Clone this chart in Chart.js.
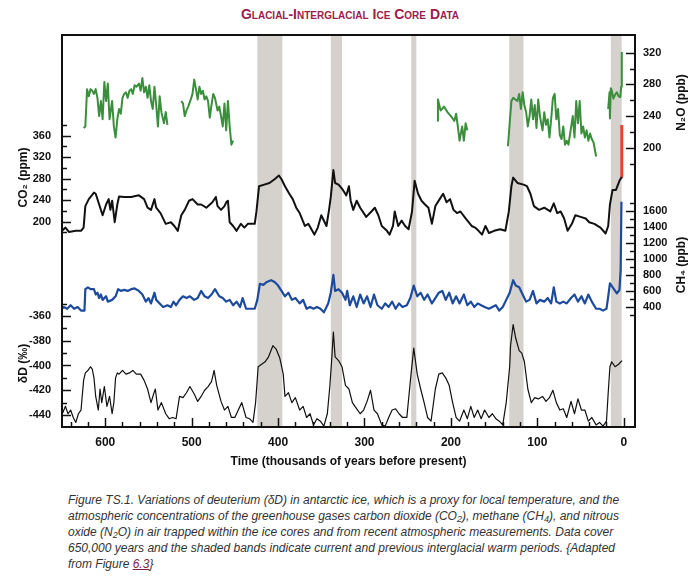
<!DOCTYPE html>
<html>
<head>
<meta charset="utf-8">
<script src="https://cdn.jsdelivr.net/npm/chart.js@4.4.1/dist/chart.umd.min.js"></script>
<style>
  html, body { margin: 0; padding: 0; background: #fff; }
  #wrap { position: relative; width: 700px; height: 581px; overflow: hidden; }
  #title { position: absolute; left: 0; top: 5px; width: 700px; text-align: center;
           font: bold 14px/18px "Liberation Sans", Arial, sans-serif; font-variant: small-caps; color: #9b1d4c; }
  #chart { position: absolute; left: 0; top: 0; }
  #caption { position: absolute; left: 68px; top: 492px; white-space: nowrap;
             font: italic 12px/16px "Liberation Sans", Arial, sans-serif; color: #333; }
  #caption sub { font-size: 9px; line-height: 0; vertical-align: -2px; }
  #caption a { color: #7a1f45; text-decoration: underline; }
</style>
</head>
<body>
<div id="wrap">
  <div id="title">Glacial-Interglacial Ice Core Data</div>
  <canvas id="chart" width="700" height="480"></canvas>
  <div id="caption">Figure TS.1. Variations of deuterium (δD) in antarctic ice, which is a proxy for local temperature, and the<br>atmospheric concentrations of the greenhouse gases carbon dioxide (CO<sub>2</sub>), methane (CH<sub>4</sub>), and nitrous<br>oxide (N<sub>2</sub>O) in air trapped within the ice cores and from recent atmospheric measurements. Data cover<br>650,000 years and the shaded bands indicate current and previous interglacial warm periods. {Adapted<br>from Figure <a>6.3</a>}</div>
</div>
<script>
(function () {
    var FONT = '"Liberation Sans", Arial, Helvetica, sans-serif';

    // time axis: thousands of years before present
    var xTicks = [600, 500, 400, 300, 200, 100, 0];
    var xMinor = [640, 620, 580, 560, 540, 520, 480, 460, 440, 420, 380, 360, 340, 320,
                  280, 260, 240, 220, 180, 160, 140, 120, 80, 60, 40, 20];

    var co2Ticks = [200, 240, 280, 320, 360];
    var co2Minor = [180, 220, 260, 300, 340, 380];
    var dDTicks = [-440, -420, -400, -380, -360];
    var dDMinor = [-430, -410, -390, -370, -350];
    var n2oTicks = [200, 240, 280, 320];
    var n2oMinor = [180, 220, 260, 300];
    var ch4Ticks = [400, 600, 800, 1000, 1200, 1400, 1600];
    var ch4Minor = [300, 500, 700, 900, 1100, 1300, 1500, 1700];

    // interglacial bands (start, end in kyr BP)
    var bandStart = [424, 339, 246, 132.5, 15];
    var bandEnd = [395, 326, 240, 116, 2.4];

    var co2Years = [652, 646, 642, 634, 628, 625, 623, 619, 613, 611,
        607, 603, 599, 596, 594, 592, 589, 586, 584, 578,
        570, 561, 555, 551, 547, 543, 541, 536, 530, 524,
        520, 516, 512, 508, 503, 499, 493, 489, 483, 476,
        472, 470, 466, 462, 460, 458, 456, 452, 448, 443,
        439, 435, 427, 425, 422, 416, 410, 404, 399, 396,
        392, 387, 383, 379, 375, 369, 365, 358, 354, 350,
        344, 341, 339, 336, 334, 330, 325, 321, 318, 316,
        313, 309, 305, 298, 292, 288, 284, 280, 274, 271,
        267, 265, 261, 257, 253, 249, 245, 242, 238, 234,
        230, 226, 222, 218, 213, 209, 205, 201, 197, 193,
        189, 183, 176, 172, 168, 164, 160, 156, 150, 143,
        137, 133, 130, 128, 123, 116, 112, 108, 104, 98,
        92, 85, 81, 77, 73, 69, 65, 60, 56, 50,
        44, 40, 34, 27, 21, 18, 16, 13, 9, 5, 2.4];
    var co2Values = [180, 189, 181, 183, 183, 189, 229, 242, 254, 252,
        232, 212, 232, 242, 222, 239, 199, 232, 247, 246,
        246, 249, 242, 226, 222, 242, 226, 216, 196, 199,
        192, 183, 212, 222, 239, 242, 232, 232, 226, 236,
        246, 229, 222, 229, 236, 239, 199, 192, 183, 196,
        189, 196, 196, 219, 266, 269, 272, 279, 286, 279,
        266, 252, 242, 226, 216, 192, 196, 176, 189, 212,
        192, 222, 246, 296, 272, 269, 259, 249, 266, 239,
        222, 239, 226, 209, 219, 226, 212, 192, 183, 176,
        192, 219, 192, 202, 192, 186, 219, 276, 252, 239,
        232, 226, 196, 229, 242, 252, 236, 242, 222, 216,
        219, 206, 192, 189, 183, 176, 192, 179, 183, 186,
        183, 219, 266, 282, 272, 269, 266, 252, 229, 222,
        226, 219, 234, 216, 219, 206, 183, 196, 212, 209,
        206, 199, 196, 189, 178, 192, 232, 259, 259, 276, 283];

    // instrumental CO2 (red)
    var co2ModernYears = [2.4, 2.3];
    var co2ModernValues = [283, 380];

    var ch4Years = [652, 648, 644, 640, 636, 632, 628, 624, 623, 620,
        617, 613, 611, 609, 607, 605, 603, 599, 597, 592,
        588, 585, 582, 578, 574, 570, 566, 561, 557, 553,
        550, 547, 543, 541, 537, 533, 528, 524, 521, 518,
        514, 510, 506, 502, 497, 493, 489, 485, 481, 477,
        473, 468, 464, 460, 456, 452, 448, 444, 441, 437,
        433, 427, 424, 421, 417, 413, 408, 404, 400, 396,
        392, 388, 384, 380, 375, 371, 367, 363, 359, 355,
        351, 347, 342, 339, 336, 334, 330, 326, 322, 320,
        317, 313, 309, 305, 301, 297, 293, 289, 285, 280,
        276, 272, 268, 264, 260, 256, 251, 247, 243, 239,
        235, 231, 227, 222, 218, 214, 210, 206, 202, 198,
        194, 190, 185, 181, 177, 173, 169, 165, 161, 156,
        152, 148, 144, 140, 136, 132, 128, 125, 121, 117,
        113, 109, 105, 101, 97, 92, 88, 84, 81, 78,
        74, 70, 66, 61, 57, 53, 49, 45, 41, 37,
        32, 28, 24, 20, 18, 16, 12, 8, 5, 3.6, 2.7];
    var ch4Values = [355, 400, 378, 422, 378, 400, 355, 355, 623, 646,
        623, 623, 556, 579, 512, 556, 489, 534, 467, 489,
        534, 623, 601, 614, 601, 623, 632, 601, 556, 467,
        512, 445, 579, 489, 445, 400, 422, 400, 467, 422,
        489, 534, 512, 534, 489, 512, 601, 534, 512, 556,
        623, 534, 512, 467, 489, 422, 467, 400, 512, 378,
        378, 378, 489, 690, 677, 713, 735, 713, 668, 601,
        534, 579, 489, 512, 445, 489, 378, 400, 378, 400,
        378, 333, 445, 579, 802, 601, 623, 579, 489, 601,
        422, 534, 400, 556, 445, 534, 400, 556, 422, 378,
        445, 400, 467, 378, 445, 400, 422, 512, 668, 534,
        579, 489, 556, 445, 512, 579, 601, 489, 579, 445,
        534, 445, 556, 422, 467, 400, 445, 422, 400, 378,
        400, 422, 355, 400, 489, 579, 735, 668, 646, 556,
        467, 489, 601, 445, 489, 467, 512, 445, 646, 467,
        445, 467, 445, 512, 556, 467, 534, 445, 556, 467,
        378, 378, 355, 378, 529, 696, 634, 571, 612, 862, 1716];

    // N2O, null marks gaps in the record
    var n2oYears = [625, 623, 621, 619, 617, 615, 613, 611, 609, 607,
        605, 603, 601, 599, 597, 595, 592, 590, 588, 586,
        584, 582, 580, 578, 576, 574, 572, 570, 568, 566,
        564, 561, 559, 557, 555, 553, 551, 549, 547, 545,
        543, 541, 539, 537, 535, 532, 530, 528,
        520,
        512, 510, 508, 506, 504, 501, 499, 497, 495, 493,
        491, 489, 487, 485, 483, 481, 479, 477, 475, 473,
        470, 468, 466, 464, 462, 460, 458, 456, 454, 452,
        300,
        216, 215, 212, 208, 204, 200, 196, 194, 192, 190,
        187, 185, 183, 181,
        160,
        134, 132, 130, 128, 123, 121, 119, 117, 115, 113,
        111, 109, 107, 105, 103, 101, 99, 97, 94, 92,
        90, 88, 86, 84, 82, 80, 78, 76, 74, 72,
        70, 68, 66, 64, 59, 57, 55, 53, 51, 49,
        47, 45, 43, 41, 39, 37, 35, 32,
        25,
        18, 16.5, 16, 15, 14, 12, 10, 8, 6, 4, 3, 2.4, 2.2];
    var n2oValues = [225, 227, 274, 265, 274, 272, 268, 274, 263, 240,
        259, 236, 283, 259, 281, 236, 259, 227, 213, 236,
        249, 243, 263, 268, 270, 263, 272, 274, 268, 279,
        277, 281, 272, 288, 270, 277, 263, 279, 259, 249,
        277, 254, 227, 265, 245, 231, 245, 229,
        null,
        259, 256, 240, 247, 252, 261, 268, 286, 274, 261,
        277, 268, 272, 261, 265, 259, 238, 254, 268, 263,
        247, 252, 240, 227, 256, 222, 259, 227, 204, 209,
        null,
        234, 261, 247, 252, 245, 240, 234, 243, 227, 209,
        227, 209, 231, 222,
        null,
        202, 231, 259, 263, 259, 268, 249, 270, 254, 245,
        227, 240, 261, 236, 254, 225, 261, 240, 222, 245,
        229, 236, 213, 236, 263, 268, 236, 249, 216, 211,
        227, 204, 209, 204, 240, 213, 259, 231, 259, 218,
        227, 213, 222, 209, 218, 211, 207, 189,
        null,
        249, 270, 237, 275, 273, 262, 267, 270, 265, 264, 277, 300, 321];

    var dDYears = [652, 649, 646, 643, 640, 637, 634, 631, 628, 625,
        623, 620, 617, 615, 613, 611, 608, 606, 604, 601,
        598, 595, 592, 590, 588, 586, 584, 580, 576, 572,
        568, 564, 559, 555, 551, 547, 544, 542, 539, 535,
        530, 526, 522, 518, 514, 510, 506, 502, 497, 493,
        489, 485, 481, 477, 474, 471, 466, 462, 458, 454,
        450, 446, 442, 437, 433, 429, 426, 423, 419, 415,
        411, 406, 402, 398, 394, 392, 388, 384, 380, 375,
        371, 367, 363, 359, 355, 351, 347, 343, 340, 338,
        336, 334, 330, 326, 322, 318, 314, 309, 305, 301,
        297, 293, 289, 285, 280, 276, 272, 268, 264, 260,
        256, 251, 247, 243, 239, 235, 231, 227, 223, 218,
        214, 210, 206, 202, 198, 194, 190, 185, 181, 177,
        173, 169, 165, 161, 156, 152, 148, 144, 140, 136,
        132, 131, 128, 125, 121, 118, 115, 111, 107, 103,
        99, 94, 90, 86, 82, 78, 74, 70, 66, 61,
        57, 53, 49, 45, 41, 37, 32, 28, 24, 20,
        18, 16, 14, 10, 6, 2];
    var dDValues = [-436, -438, -433, -439, -436, -442, -446, -439, -436, -412,
        -406, -404, -401, -403, -410, -425, -436, -419, -430, -417,
        -433, -425, -439, -430, -410, -406, -407, -404, -407, -406,
        -404, -407, -407, -412, -419, -430, -423, -419, -436, -430,
        -439, -443, -442, -443, -425, -426, -422, -417, -423, -429,
        -425, -420, -417, -413, -404, -416, -429, -436, -433, -442,
        -442, -436, -430, -442, -443, -446, -430, -401, -399, -397,
        -393, -384, -387, -394, -407, -425, -422, -430, -426, -436,
        -433, -442, -439, -448, -443, -445, -449, -439, -416, -396,
        -373, -393, -396, -401, -416, -419, -430, -435, -439, -436,
        -429, -420, -436, -439, -448, -449, -442, -436, -435, -439,
        -442, -442, -413, -386, -407, -419, -430, -442, -445, -419,
        -407, -406, -410, -416, -430, -442, -445, -436, -443, -433,
        -442, -436, -443, -436, -442, -439, -443, -445, -448, -430,
        -401, -384, -367, -378, -388, -390, -397, -419, -430, -426,
        -427, -425, -429, -426, -420, -430, -436, -435, -442, -429,
        -439, -427, -436, -436, -445, -442, -448, -446, -449, -445,
        -422, -401, -397, -401, -399, -396];

    function pts(xs, ys) {
        return xs.map(function (x, i) { return { x: x, y: ys[i] }; });
    }

    function fixTicks(list) {
        return function (s) { s.ticks = list.map(function (v) { return { value: v }; }); };
    }

    function plain(v) { return String(v); }

    var tickFont = { family: FONT, size: 11, weight: 'bold' };
    var titleFont = { family: FONT, size: 12, weight: 'bold' };

    function yAxis(pos, min, max, ticks, weight, stackWeight, title) {
        return {
            type: 'linear', position: pos, stack: 'side', stackWeight: stackWeight, weight: weight,
            min: min, max: max, bounds: 'data',
            afterBuildTicks: fixTicks(ticks),
            afterFit: function (s) { s.width = pos === 'left' ? 62 : 65; },
            grid: { display: false, drawTicks: false },
            border: { display: false },
            ticks: { display: ticks.length > 0, autoSkip: false, padding: pos === 'left' ? 11 : 8,
                     color: '#111', font: tickFont, callback: plain },
            title: title ? { display: true, text: title, color: '#111', font: titleFont, padding: { top: 16, bottom: 0 } } : { display: false }
        };
    }

    var rightTitles = [['n2o', 'N₂O (ppb)'], ['ch4', 'CH₄ (ppb)']];

    var marks = {
        id: 'marks',
        beforeDatasetsDraw: function (chart) {
            var ctx = chart.ctx, a = chart.chartArea, xs = chart.scales.x;
            ctx.save();
            ctx.fillStyle = '#d5d2cd';
            for (var i = 0; i < bandStart.length; i++) {
                var x0 = xs.getPixelForValue(bandStart[i]);
                var x1 = xs.getPixelForValue(bandEnd[i]);
                ctx.fillRect(x0, a.top, x1 - x0, a.bottom - a.top);
            }
            ctx.restore();
        },
        afterDraw: function (chart) {
            var ctx = chart.ctx, a = chart.chartArea, s = chart.scales;
            ctx.save();
            ctx.strokeStyle = '#111';
            ctx.lineWidth = 1.5;
            function yMarks(scale, list, len, left) {
                list.forEach(function (v) {
                    var y = Math.round(scale.getPixelForValue(v)) + 0.5;
                    ctx.beginPath();
                    if (left) { ctx.moveTo(a.left, y); ctx.lineTo(a.left + len, y); }
                    else { ctx.moveTo(a.right, y); ctx.lineTo(a.right - len, y); }
                    ctx.stroke();
                });
            }
            yMarks(s.co2, co2Ticks, 9, true); yMarks(s.co2, co2Minor, 5, true);
            yMarks(s.dD, dDTicks, 9, true); yMarks(s.dD, dDMinor, 5, true);
            yMarks(s.n2o, n2oTicks, 9, false); yMarks(s.n2o, n2oMinor, 5, false);
            yMarks(s.ch4, ch4Ticks, 9, false); yMarks(s.ch4, ch4Minor, 5, false);
            function xMarks(list, len) {
                list.forEach(function (v) {
                    var x = Math.round(s.x.getPixelForValue(v)) + 0.5;
                    ctx.beginPath(); ctx.moveTo(x, a.bottom); ctx.lineTo(x, a.bottom - len); ctx.stroke();
                });
            }
            xMarks(xTicks, 9); xMarks(xMinor, 5);
            ctx.lineWidth = 2;
            ctx.strokeRect(a.left, a.top, a.right - a.left, a.bottom - a.top);
            // right-hand titles read bottom to top like the left ones
            ctx.fillStyle = '#111';
            ctx.font = 'bold 12px ' + FONT;
            ctx.textAlign = 'center';
            ctx.textBaseline = 'middle';
            rightTitles.forEach(function (t) {
                var sc = s[t[0]];
                ctx.save();
                ctx.translate(682, (sc.top + sc.bottom) / 2);
                ctx.rotate(-Math.PI / 2);
                ctx.fillText(t[1], 0, 0);
                ctx.restore();
            });
            ctx.restore();
        }
    };

    var el = document.getElementById('chart');
    new Chart(el.getContext('2d'), {
        type: 'line',
        data: {
            datasets: [
                { label: 'δD', data: pts(dDYears, dDValues), yAxisID: 'dD', borderColor: '#111', borderWidth: 1.2 },
                { label: 'CH4', data: pts(ch4Years, ch4Values), yAxisID: 'ch4', borderColor: '#1c4a9c', borderWidth: 2.2 },
                { label: 'CO2', data: pts(co2Years, co2Values), yAxisID: 'co2', borderColor: '#111', borderWidth: 2 },
                { label: 'CO2 recent', data: pts(co2ModernYears, co2ModernValues), yAxisID: 'co2', borderColor: '#e8452f', borderWidth: 3 },
                { label: 'N2O', data: pts(n2oYears, n2oValues), yAxisID: 'n2o', borderColor: '#3b8e3b', borderWidth: 2, spanGaps: false }
            ]
        },
        options: {
            responsive: false,
            animation: false,
            layout: { padding: { top: 35, left: 0, right: 0, bottom: 0 } },
            elements: { point: { radius: 0 }, line: { tension: 0, borderJoinStyle: 'round' } },
            plugins: { legend: { display: false }, tooltip: { enabled: false } },
            scales: {
                x: {
                    type: 'linear', position: 'bottom', reverse: true, min: -13, max: 650, bounds: 'data',
                    afterBuildTicks: fixTicks(xTicks),
                    afterFit: function (s) { s.height = 53; },
                    grid: { display: false, drawTicks: false },
                    border: { display: false },
                    ticks: { padding: 8, autoSkip: false, maxRotation: 0, color: '#111', callback: plain,
                             font: { family: FONT, size: 12, weight: 'bold' } },
                    title: { display: true, text: 'Time (thousands of years before present)', color: '#111', font: titleFont, padding: { top: 0, bottom: 11 } }
                },
                yPadL: yAxis('left', 0, 1, [], 3, 20, null),
                co2: yAxis('left', 54.3, 510.1, co2Ticks, 2, 245, 'CO₂ (ppm)'),
                dD: yAxis('left', -449.7, -347.07, dDTicks, 1, 127, 'δD (‰)'),
                n2o: yAxis('right', 172, 342.3, n2oTicks, 1, 135, null),
                ch4: yAxis('right', -262.5, 2112.5, ch4Ticks, 2, 190, null),
                yPadR: yAxis('right', 0, 1, [], 3, 67, null)
            }
        },
        plugins: [marks]
    });
})();
</script>
</body>
</html>
